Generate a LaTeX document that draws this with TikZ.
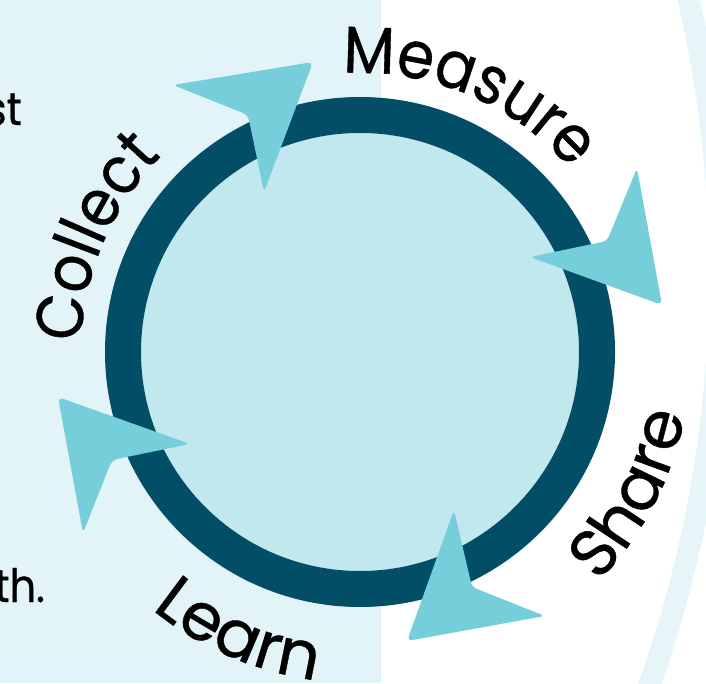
\documentclass[tikz,border=0pt]{standalone}
\usepackage{fontspec}
\setmainfont{Poppins}
\newfontfamily\cycfont{Poppins}[FakeStretch=0.9, FakeBold=0.6]
\newfontfamily\cycwide{Poppins}[FakeBold=0.6]
\usetikzlibrary{decorations.text,calc}
\definecolor{panel}{HTML}{E2F4F7}
\definecolor{bandc}{HTML}{E6F6F8}
\definecolor{innerc}{HTML}{C2E8EF}
\definecolor{ringc}{HTML}{024E66}
\definecolor{arrowc}{HTML}{77CEDB}
\tikzset{
  arrowhead/.style={fill=arrowc, rounded corners=5pt},
  cyclabel/.style={decorate, decoration={text along path, text align=left,
     text={|\cycfont\fontsize{66pt}{66pt}\selectfont|#1}}},
  cyclabelwide/.style={decorate, decoration={text along path, text align=left,
     text={|\cycwide\fontsize{66pt}{66pt}\selectfont|#1}}},
  sidetext/.style={inner sep=0pt, anchor=base east, font=\cycfont\fontsize{46pt}{46pt}\selectfont}
}
\begin{document}
\begin{tikzpicture}[x=1pt,y=1pt]
\useasboundingbox (0,0) rectangle (706,683);
\begin{scope}
  \clip (0,0) rectangle (706,683);
  \fill[panel] (0,0) rectangle (381,683);
  \draw[bandc, line width=22pt] ($(-506,408)+(-20:1226)$) arc[start angle=-20, end angle=20, radius=1226];
\end{scope}
\coordinate (C) at (360,331);
\fill[innerc] (C) circle[radius=219];
\draw[ringc, line width=36pt] (C) circle[radius=237];
% arrowheads
\fill[arrowhead] (313,621) -- (264,491) -- (248,568) -- (173,598) -- cycle;
\fill[arrowhead] (662,378) -- (530,426) -- (607,442) -- (637,515) -- cycle;
\fill[arrowhead] (407,42) -- (545,67) -- (472,96) -- (454,173) -- cycle;
\fill[arrowhead] (58,286) -- (83,150) -- (112,223) -- (190,239) -- cycle;
% labels along the cycle
\path[cyclabel=Measure] ($(C)+(93.5:279)$) arc[start angle=93.5, end angle=-10, radius=279];
\path[cyclabel=Collect] ($(C)+(178:279)$) arc[start angle=178, end angle=80, radius=279];
\path[cyclabelwide=Learn] ($(C)+(231:331)$) arc[start angle=231, end angle=320, radius=331];
\path[cyclabelwide=Share] ($(C)+(316:331)$) arc[start angle=316, end angle=400, radius=331];
% partial side texts
\node[sidetext] (st) at (22,558) {st};
\node[sidetext] (th) at (45,81) {th.};
\end{tikzpicture}
\end{document}
